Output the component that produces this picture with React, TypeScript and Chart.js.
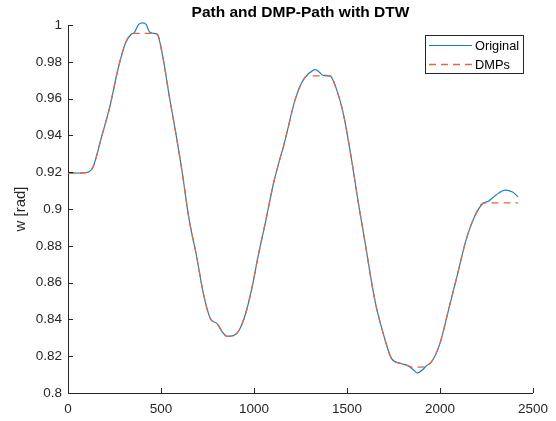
import React, { useEffect, useRef } from 'react';
import { Chart, registerables } from 'chart.js';

Chart.register(...registerables);

const titleText = 'Path and DMP-Path with DTW';
const yAxisLabel = 'w [rad]';
const seriesLabels = ['Original', 'DMPs'];

const sampleX = [
  0, 90, 135, 180, 225, 270, 310, 340, 356, 380, 400, 420, 440, 460, 480, 510, 545, 580, 615, 650,
  690, 730, 765, 800, 830, 855, 890, 920, 955, 990, 1025, 1060, 1105, 1140, 1158, 1176, 1220, 1255,
  1285, 1310, 1330, 1350, 1370, 1410, 1445, 1480, 1525, 1560, 1595, 1650, 1695, 1740, 1790, 1830,
  1855, 1880, 1905, 1930, 1955, 2000, 2050, 2095, 2140, 2185, 2230, 2260, 2300, 2350, 2390, 2420,
];

const originalY = [
  0.9195, 0.9197, 0.923, 0.939, 0.9556, 0.9765, 0.9905, 0.995, 0.9958, 1.0003, 1.0012, 1.0003, 0.996,
  0.9955, 0.995, 0.9825, 0.961, 0.941, 0.9193, 0.895,
  0.875, 0.853, 0.8405, 0.8378, 0.8332, 0.8308, 0.8312, 0.8341, 0.8432, 0.8577, 0.8758, 0.892, 0.914,
  0.9275, 0.9338, 0.9411, 0.959, 0.9683,
  0.9728, 0.9748, 0.9757, 0.9745, 0.9727, 0.9722, 0.9646, 0.952, 0.9266, 0.904, 0.8831, 0.8504,
  0.8323, 0.8187, 0.816, 0.8147,
  0.8128, 0.8109, 0.8125, 0.815, 0.817, 0.827, 0.8468, 0.8649, 0.8831, 0.8957, 0.903, 0.9042,
  0.9075, 0.9103, 0.9092, 0.9066,
];

const dmpY = [
  0.9195, 0.9197, 0.923, 0.939, 0.9556, 0.9765, 0.9905, 0.995, 0.9955, 0.9955, 0.9955, 0.9955, 0.9955,
  0.9953, 0.995, 0.9825, 0.961, 0.941, 0.9193, 0.895,
  0.875, 0.853, 0.8405, 0.8378, 0.8332, 0.8308, 0.8312, 0.8341, 0.8432, 0.8577, 0.8758, 0.892, 0.914,
  0.9275, 0.9338, 0.9411, 0.959, 0.9683,
  0.9724, 0.9724, 0.9724, 0.9724, 0.9724, 0.9723, 0.9646, 0.952, 0.9266, 0.904, 0.8831, 0.8504,
  0.8323, 0.8187, 0.816, 0.8147,
  0.8141, 0.8141, 0.8141, 0.815, 0.817, 0.827, 0.8468, 0.8649, 0.8831, 0.8957, 0.903, 0.9033,
  0.9033, 0.9033, 0.9033, 0.9033,
];

const xTickValues = [0, 500, 1000, 1500, 2000, 2500];
const yTickValues = [0.8, 0.82, 0.84, 0.86, 0.88, 0.9, 0.92, 0.94, 0.96, 0.98, 1];

const AXIS = '#262626';
const BLUE = '#1a7fc6';
const ORANGE = '#e2683a';
const FONT = '"Liberation Sans", Arial, Helvetica, sans-serif';

const decorPlugin = {
  id: 'decor',
  afterDraw(chart: any) {
    const { ctx, chartArea, scales } = chart;
    ctx.save();
    // inward tick marks
    ctx.strokeStyle = AXIS;
    ctx.lineWidth = 1;
    ctx.beginPath();
    scales.x.ticks.forEach((t: any) => {
      const px = Math.round(scales.x.getPixelForValue(t.value)) + 0.5;
      ctx.moveTo(px, chartArea.bottom);
      ctx.lineTo(px, chartArea.bottom - 5);
    });
    scales.y.ticks.forEach((t: any) => {
      const py = Math.round(scales.y.getPixelForValue(t.value)) + 0.5;
      ctx.moveTo(chartArea.left, py);
      ctx.lineTo(chartArea.left + 5, py);
    });
    ctx.stroke();

    // title
    ctx.fillStyle = '#000';
    ctx.font = `bold 15.5px ${FONT}`;
    ctx.textAlign = 'center';
    ctx.textBaseline = 'alphabetic';
    ctx.fillText(titleText, (chartArea.left + chartArea.right) / 2, 17);

    // y axis label
    ctx.save();
    ctx.translate(21, (chartArea.top + chartArea.bottom) / 2);
    ctx.rotate(-Math.PI / 2);
    ctx.fillStyle = AXIS;
    ctx.font = `15px ${FONT}`;
    ctx.textAlign = 'center';
    ctx.textBaseline = 'middle';
    ctx.fillText(yAxisLabel, 0, 0);
    ctx.restore();

    // legend
    const lx = 425.5, ly = 35.5, lw = 98, lh = 38;
    ctx.fillStyle = '#fff';
    ctx.fillRect(lx, ly, lw, lh);
    ctx.strokeStyle = AXIS;
    ctx.lineWidth = 1;
    ctx.strokeRect(lx, ly, lw, lh);
    const rows = [
      { y: 45.5, color: BLUE, dash: [] as number[], width: 1 },
      { y: 64.5, color: ORANGE, dash: [7, 5], width: 1.3 },
    ];
    rows.forEach((r, i) => {
      ctx.save();
      ctx.strokeStyle = r.color;
      ctx.lineWidth = r.width;
      ctx.setLineDash(r.dash);
      ctx.beginPath();
      ctx.moveTo(429, r.y);
      ctx.lineTo(472, r.y);
      ctx.stroke();
      ctx.restore();
      ctx.fillStyle = '#000';
      ctx.font = `12.8px ${FONT}`;
      ctx.textAlign = 'left';
      ctx.textBaseline = 'middle';
      ctx.fillText(seriesLabels[i], 475, r.y + 0.5);
    });
    ctx.restore();
  },
};

export default function App() {
  const canvasRef = useRef<HTMLCanvasElement | null>(null);

  useEffect(() => {
    const canvas = canvasRef.current;
    if (!canvas) return;
    const chart = new Chart(canvas, {
      type: 'line',
      data: {
        datasets: [
          {
            label: seriesLabels[0],
            data: sampleX.map((x, i) => ({ x, y: originalY[i] })),
            borderColor: BLUE,
            borderWidth: 1.2,
            pointRadius: 0,
            cubicInterpolationMode: 'monotone',
            clip: false as any,
            order: 2,
          },
          {
            label: seriesLabels[1],
            data: sampleX.map((x, i) => ({ x, y: dmpY[i] })),
            borderColor: ORANGE,
            borderWidth: 1.3,
            borderDash: [7, 5],
            pointRadius: 0,
            cubicInterpolationMode: 'monotone',
            clip: false as any,
            order: 1,
          },
        ],
      },
      options: {
        animation: false,
        responsive: false,
        devicePixelRatio: 1,
        layout: { padding: { top: 25, right: 20, left: 0, bottom: 0 } },
        plugins: {
          legend: { display: false },
          title: { display: false },
          tooltip: { enabled: false },
        },
        scales: {
          x: {
            type: 'linear',
            min: 0,
            max: 2500,
            grid: { display: false, drawTicks: false },
            border: { display: true, color: AXIS, width: 1 },
            afterBuildTicks: (s: any) => {
              s.ticks = xTickValues.map((v) => ({ value: v }));
            },
            afterFit: (s: any) => {
              s.height = 28;
            },
            ticks: {
              color: AXIS,
              font: { family: FONT, size: 13.5 },
              padding: 8,
              maxRotation: 0,
              autoSkip: false,
              callback: (v: any) => String(v),
            },
          },
          y: {
            type: 'linear',
            min: 0.8,
            max: 1,
            grid: { display: false, drawTicks: false },
            border: { display: true, color: AXIS, width: 1 },
            afterBuildTicks: (s: any) => {
              s.ticks = yTickValues.map((v) => ({ value: v }));
            },
            afterFit: (s: any) => {
              s.width = 68;
            },
            ticks: {
              color: AXIS,
              font: { family: FONT, size: 13.5 },
              padding: 6,
              autoSkip: false,
              callback: (v: any) => String(Math.round(Number(v) * 100) / 100),
            },
          },
        },
      },
      plugins: [decorPlugin],
    });
    return () => chart.destroy();
  }, []);

  return (
    <div style={{ position: 'absolute', left: 0, top: 0, width: 556, height: 421, background: '#fff' }}>
      <canvas ref={canvasRef} width={556} height={421} style={{ display: 'block' }} />
    </div>
  );
}
